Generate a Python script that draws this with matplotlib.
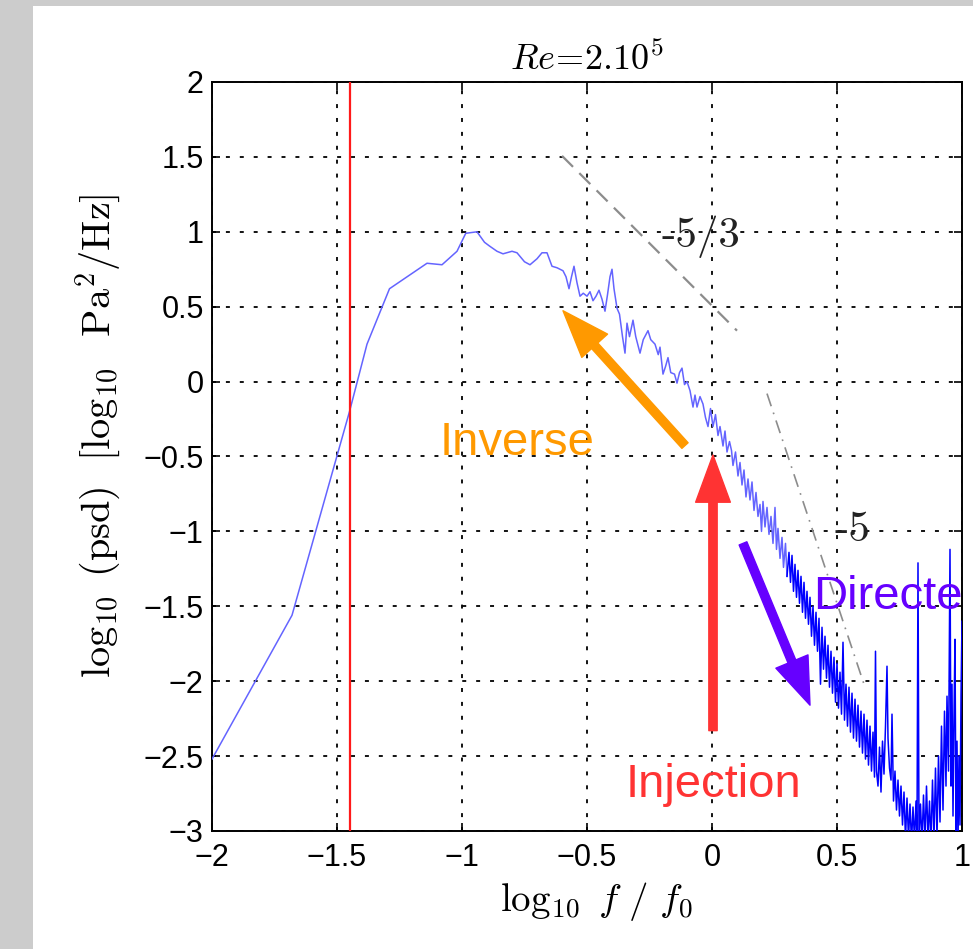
import matplotlib

matplotlib.use("Agg")
import matplotlib.pyplot as plt
from matplotlib.patches import Rectangle

# --- spectrum, read as (log10 f/f0, log10 psd) ---
# smooth/low-frequency part, up to log f = 0.3
log_f_low = [
    -2.0, -1.68, -1.45, -1.38, -1.29, -1.14, -1.08, -1.02, -0.985, -0.94,
    -0.91, -0.89, -0.86, -0.836, -0.80, -0.78, -0.75, -0.728, -0.70, -0.68,
    -0.66, -0.64, -0.62, -0.596, -0.584, -0.572, -0.562, -0.552, -0.54, -0.528,
    -0.515, -0.50, -0.488, -0.476, -0.464, -0.452, -0.44, -0.428, -0.418, -0.408,
    -0.40, -0.392, -0.38, -0.37, -0.358, -0.348, -0.34, -0.33, -0.316, -0.305,
    -0.288, -0.275, -0.256, -0.245, -0.228, -0.215, -0.208, -0.196, -0.186, -0.176,
    -0.165, -0.15, -0.14, -0.13, -0.12, -0.11, -0.10, -0.088, -0.076, -0.068,
    -0.06, -0.048, -0.036, -0.026, -0.016, -0.006, 0.004, 0.014, 0.024, 0.032,
    0.044, 0.052, 0.06, 0.07, 0.078, 0.084, 0.094, 0.104, 0.112, 0.12,
    0.128, 0.136, 0.144, 0.152, 0.16, 0.168, 0.176, 0.184, 0.192, 0.198,
    0.204, 0.212, 0.22, 0.228, 0.236, 0.244, 0.252, 0.258, 0.264, 0.272,
    0.28, 0.286, 0.294,
]
log_psd_low = [
    -2.52, -1.56, -0.20, 0.25, 0.62, 0.79, 0.78, 0.87, 0.99, 1.0,
    0.93, 0.905, 0.87, 0.853, 0.87, 0.86, 0.80, 0.78, 0.82, 0.86,
    0.86, 0.77, 0.76, 0.74, 0.70, 0.62, 0.70, 0.77, 0.66, 0.57,
    0.59, 0.57, 0.60, 0.54, 0.57, 0.61, 0.55, 0.47, 0.58, 0.70,
    0.75, 0.62, 0.49, 0.45, 0.30, 0.19, 0.39, 0.30, 0.41, 0.30,
    0.19, 0.28, 0.34, 0.28, 0.25, 0.18, 0.23, 0.05, 0.10, 0.16,
    0.06, 0.05, -0.01, 0.06, 0.09, -0.02, 0.0, -0.06, -0.17, -0.09,
    -0.17, -0.10, -0.15, -0.24, -0.30, -0.18, -0.30, -0.22, -0.36, -0.30,
    -0.43, -0.33, -0.47, -0.40, -0.46, -0.56, -0.47, -0.63, -0.54, -0.69,
    -0.59, -0.77, -0.65, -0.79, -0.67, -0.86, -0.74, -0.90, -0.82, -1.0,
    -0.80, -0.97, -0.84, -1.02, -0.90, -1.08, -0.84, -1.12, -0.98, -1.18,
    -1.04, -1.24, -1.08,
]
# dense/noisy high-frequency part
log_f_high = [
    0.30, 0.308, 0.314, 0.32, 0.326, 0.332, 0.338, 0.344, 0.35, 0.356,
    0.362, 0.368, 0.374, 0.38, 0.386, 0.392, 0.398, 0.404, 0.41, 0.416,
    0.422, 0.428, 0.434, 0.44, 0.446, 0.452, 0.458, 0.464, 0.47, 0.476,
    0.482, 0.488, 0.494, 0.50, 0.506, 0.512, 0.518, 0.524, 0.53, 0.536,
    0.542, 0.548, 0.554, 0.56, 0.566, 0.572, 0.578, 0.584, 0.59, 0.596,
    0.602, 0.608, 0.614, 0.62, 0.626, 0.632, 0.638, 0.644, 0.65, 0.654,
    0.658, 0.664, 0.67, 0.676, 0.682, 0.688, 0.694, 0.70, 0.704, 0.71,
    0.716, 0.72, 0.726, 0.732, 0.738, 0.744, 0.75, 0.756, 0.762, 0.768,
    0.774, 0.78, 0.786, 0.792, 0.798, 0.804, 0.81, 0.816, 0.82, 0.824,
    0.828, 0.834, 0.84, 0.846, 0.852, 0.858, 0.864, 0.87, 0.876, 0.882,
    0.888, 0.894, 0.90, 0.906, 0.912, 0.918, 0.924, 0.93, 0.936, 0.94,
    0.946, 0.952, 0.956, 0.96, 0.964, 0.968, 0.972, 0.976, 0.98, 0.984,
    0.988, 0.992, 0.996, 1.0,
]
log_psd_high = [
    -1.30, -1.14, -1.34, -1.16, -1.40, -1.22, -1.44, -1.26, -1.48, -1.30,
    -1.54, -1.34, -1.58, -1.40, -1.62, -1.44, -1.70, -1.50, -1.76, -1.54,
    -1.80, -1.58, -2.02, -1.64, -1.92, -1.70, -1.98, -1.76, -2.04, -1.80,
    -2.08, -1.84, -2.14, -1.88, -2.18, -1.94, -2.22, -1.74, -2.26, -2.02,
    -2.30, -2.04, -2.34, -2.08, -2.38, -2.12, -2.40, -2.16, -2.44, -2.20,
    -2.48, -2.22, -2.52, -2.26, -2.56, -2.30, -2.60, -2.34, -2.64, -1.80,
    -2.60, -2.70, -2.44, -2.74, -2.40, -2.62, -2.30, -1.90, -2.38, -2.58,
    -2.66, -2.22, -2.80, -2.60, -2.86, -2.66, -2.90, -2.70, -2.96, -2.74,
    -3.05, -2.78, -3.05, -2.82, -3.08, -2.84, -3.06, -2.80, -3.05, -1.21,
    -3.05, -2.82, -3.08, -2.76, -3.06, -2.70, -3.05, -2.80, -3.08, -2.66,
    -3.05, -2.58, -3.04, -2.50, -2.94, -2.30, -2.86, -2.20, -2.70, -2.10,
    -2.60, -1.12, -2.70, -2.02, -2.90, -2.24, -1.72, -3.05, -2.40, -3.08,
    -2.50, -2.96, -2.10, -1.60,
]

# reference slopes
slope_53_x = [-0.6, 0.1]
slope_53_y = [1.507, 0.34]
slope_5_x = [0.22, 0.61]
slope_5_y = [-0.08, -2.03]

f_cut = -1.45

x_ticks = [-2, -1.5, -1, -0.5, 0, 0.5, 1]
x_tick_labels = ["\u22122", "\u22121.5", "\u22121", "\u22120.5", "0", "0.5", "1"]
y_ticks = [-3, -2.5, -2, -1.5, -1, -0.5, 0, 0.5, 1, 1.5, 2]
y_tick_labels = ["\u22123", "\u22122.5", "\u22122", "\u22121.5", "\u22121", "\u22120.5",
                 "0", "0.5", "1", "1.5", "2"]

plt.rcParams["mathtext.fontset"] = "cm"
plt.rcParams["font.family"] = ["Liberation Sans", "DejaVu Sans"]

fig = plt.figure(figsize=(9.73, 9.49), dpi=100, facecolor="white")
# grey frame strips on the top and left edges
fig.patches.append(Rectangle((0, 0), 33 / 973, 1, transform=fig.transFigure,
                             facecolor="#cccccc", edgecolor="none", zorder=-10))
fig.patches.append(Rectangle((0, 1 - 6 / 949), 1, 6 / 949, transform=fig.transFigure,
                             facecolor="#cccccc", edgecolor="none", zorder=-10))

ax = fig.add_axes([212 / 973, 1 - 831 / 949, 750 / 973, 749 / 949])
ax.set_xlim(-2, 1)
ax.set_ylim(-3, 2)

ax.grid(True, color="black", linestyle=(0, (2.2, 5.5)), linewidth=1.3)
ax.set_axisbelow(True)

ax.plot(log_f_low + log_f_high[:1], log_psd_low + log_psd_high[:1],
        color="#6464ff", linewidth=1.1, zorder=3)
ax.plot(log_f_high, log_psd_high, color="#0000ff", linewidth=1.1, zorder=3)

ax.axvline(f_cut, color="#ff1a1a", linewidth=1.6, zorder=4)

ax.plot(slope_53_x, slope_53_y, color="#8c8c8c", linewidth=1.6,
        linestyle=(0, (7, 4)), zorder=2)
ax.plot(slope_5_x, slope_5_y, color="#8c8c8c", linewidth=1.2,
        linestyle=(0, (8, 4, 1, 4)), zorder=2)
ax.text(-0.2, 0.97, "-5/3", family="cmr10", fontsize=31, color="#222222",
        ha="left", va="center", zorder=5)
ax.text(0.49, -0.99, "-5", family="cmr10", fontsize=31, color="#222222",
        ha="left", va="center", zorder=5)

# cascade arrows
arrow_style = "simple,head_length=3.4,head_width=2.5,tail_width=0.6"
ax.annotate("", xy=(-0.596, 0.473), xytext=(-0.108, -0.427),
            arrowprops=dict(arrowstyle=arrow_style, color="#ff9900",
                            shrinkA=0, shrinkB=0, mutation_scale=10), zorder=6)
ax.text(-0.78, -0.41, "Inverse", fontsize=34, color="#ff9900",
        ha="center", va="center", zorder=6)

ax.annotate("", xy=(0.004, -0.49), xytext=(0.004, -2.33),
            arrowprops=dict(arrowstyle=arrow_style, color="#ff3333",
                            shrinkA=0, shrinkB=0, mutation_scale=10), zorder=6)
ax.text(0.008, -2.69, "Injection", fontsize=34, color="#ff3333",
        ha="center", va="center", zorder=6)

ax.annotate("", xy=(0.392, -2.16), xytext=(0.124, -1.08),
            arrowprops=dict(arrowstyle=arrow_style, color="#6600ff",
                            shrinkA=0, shrinkB=0, mutation_scale=10), zorder=6)
ax.text(0.404, -1.44, "Directe", fontsize=34, color="#6600ff",
        ha="left", va="center", zorder=6)

ax.set_xticks(x_ticks)
ax.set_xticklabels(x_tick_labels)
ax.set_yticks(y_ticks)
ax.set_yticklabels(y_tick_labels)
ax.tick_params(direction="in", top=True, right=True, length=6, width=1.2,
               labelsize=22, color="black")
ax.tick_params(axis="x", pad=9)
ax.tick_params(axis="y", pad=6)
for spine in ax.spines.values():
    spine.set_linewidth(1.4)

ax.set_title(r"$Re\!=\!2.10^5$", fontsize=26, pad=9)
ax.set_xlabel(r"$\log_{10}\ f\ /\ f_0$", fontsize=28)
ax.xaxis.set_label_coords(0.513, -0.065)
ax.set_ylabel(r"$\log_{10}\ (\mathrm{psd})\ \ [\log_{10}\ \ \mathrm{Pa}^2/\mathrm{Hz}]$",
              fontsize=29)
ax.yaxis.set_label_coords(-0.118, 0.527)

fig.savefig("out.png", dpi=100, facecolor=fig.get_facecolor())
